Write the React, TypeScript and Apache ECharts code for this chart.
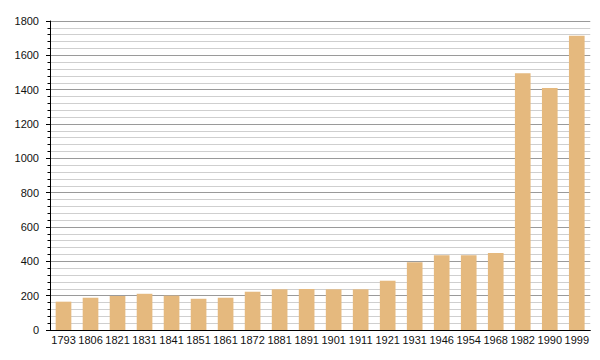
import React, { useEffect, useRef } from "react";
import * as echarts from "echarts";

const years = ["1793","1806","1821","1831","1841","1851","1861","1872","1881","1891","1901","1911","1921","1931","1946","1954","1968","1982","1990","1999"];
const population = [165,188,198,211,200,182,188,223,237,239,237,237,287,394,435,435,448,1495,1409,1714];
const yTicks = { min: 0, max: 1800, interval: 200 };

export default function App() {
  const ref = useRef<HTMLDivElement>(null);
  useEffect(() => {
    const chart = echarts.init(ref.current!, null, { renderer: "svg" });
    chart.setOption({
      animation: false,
      grid: { left: 42, right: 1, top: 13, bottom: 22 },
      xAxis: {
        type: "category",
        data: years,
        axisLine: { show: true, lineStyle: { color: "#000", width: 1 } },
        axisTick: { show: false },
        axisLabel: { color: "#111", fontSize: 11, fontFamily: "Liberation Sans, Arial, sans-serif", margin: 4, interval: 0 },
      },
      yAxis: {
        type: "value",
        min: yTicks.min,
        max: yTicks.max,
        interval: yTicks.interval,
        axisLine: { show: true, lineStyle: { color: "#000", width: 1 } },
        axisTick: { show: true, length: 4, lineStyle: { color: "#000" } },
        minorTick: { show: true, splitNumber: 5, length: 2.5, lineStyle: { color: "#000" } },
        splitLine: { show: true, lineStyle: { color: "#9a9a9a", width: 1 } },
        minorSplitLine: { show: true, lineStyle: { color: "#cfcfcf", width: 1 } },
        axisLabel: { color: "#111", fontSize: 11, fontFamily: "Liberation Sans, Arial, sans-serif", margin: 11, formatter: (v: number) => String(v) },
      },
      series: [
        {
          type: "bar",
          data: population,
          barCategoryGap: "42%",
          itemStyle: { color: "#e5b97e" },
        },
      ],
    });
    return () => chart.dispose();
  }, []);
  return <div ref={ref} style={{ width: 584, height: 344 }} />;
}
